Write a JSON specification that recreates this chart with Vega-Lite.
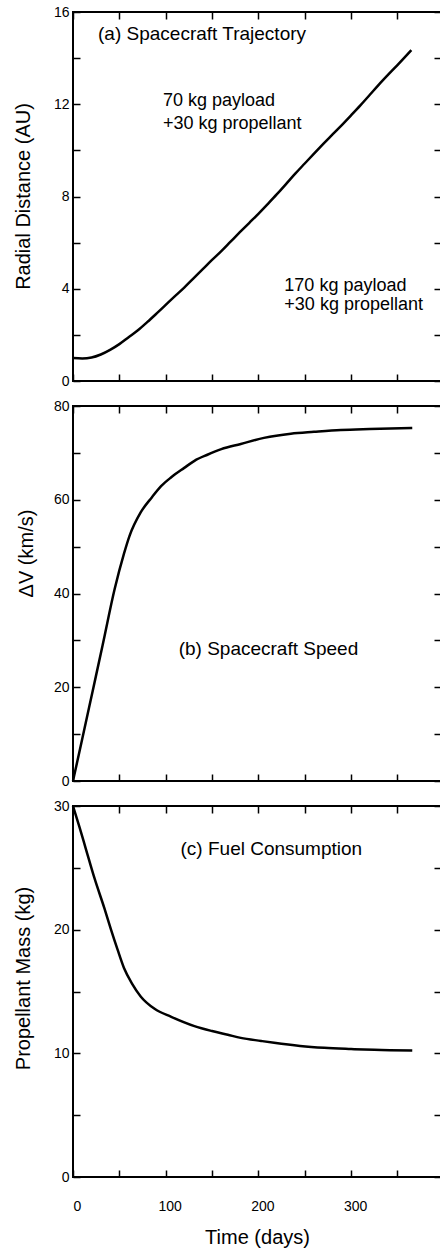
{
  "$schema": "https://vega.github.io/schema/vega-lite/v6.json",
  "padding": {"left": 12, "top": 4, "right": 0, "bottom": 0},
  "spacing": 9,
  "config": {
    "view": {"stroke": "black", "strokeWidth": 2},
    "font": "Liberation Sans",
    "axis": {
      "grid": false, "domain": false, "tickColor": "black", "tickSize": -7, "tickWidth": 1.5,
      "labelColor": "black", "titleColor": "black", "labelFontSize": 14, "titleFontSize": 20,
      "titleFontWeight": "normal", "labelFont": "Liberation Sans", "titleFont": "Liberation Sans"
    }
  },
  "datasets": {
    "traj": [
      {"t": 0, "r": 1.0}, {"t": 10, "r": 0.98}, {"t": 20, "r": 1.02}, {"t": 30, "r": 1.15}, {"t": 40, "r": 1.35},
      {"t": 50, "r": 1.6}, {"t": 60, "r": 1.9}, {"t": 70, "r": 2.2}, {"t": 80, "r": 2.55}, {"t": 90, "r": 2.92},
      {"t": 100, "r": 3.3}, {"t": 110, "r": 3.68}, {"t": 120, "r": 4.05}, {"t": 130, "r": 4.45}, {"t": 140, "r": 4.85},
      {"t": 150, "r": 5.25}, {"t": 160, "r": 5.63}, {"t": 170, "r": 6.04}, {"t": 180, "r": 6.45}, {"t": 190, "r": 6.85},
      {"t": 200, "r": 7.25}, {"t": 210, "r": 7.67}, {"t": 220, "r": 8.1}, {"t": 230, "r": 8.55}, {"t": 240, "r": 9.0},
      {"t": 250, "r": 9.43}, {"t": 260, "r": 9.86}, {"t": 270, "r": 10.28}, {"t": 280, "r": 10.69}, {"t": 290, "r": 11.1},
      {"t": 300, "r": 11.52}, {"t": 310, "r": 11.95}, {"t": 320, "r": 12.4}, {"t": 330, "r": 12.85}, {"t": 340, "r": 13.28},
      {"t": 350, "r": 13.7}, {"t": 365, "r": 14.35}
    ],
    "speed": [
      {"t": 0, "v": 0}, {"t": 10, "v": 9}, {"t": 21, "v": 19}, {"t": 32, "v": 29}, {"t": 45, "v": 41},
      {"t": 55, "v": 48.5}, {"t": 61, "v": 52.3}, {"t": 73, "v": 57.3}, {"t": 85, "v": 60.5}, {"t": 95, "v": 62.9},
      {"t": 106, "v": 64.8}, {"t": 120, "v": 66.8}, {"t": 131, "v": 68.3}, {"t": 145, "v": 69.6}, {"t": 160, "v": 70.8},
      {"t": 181, "v": 71.9}, {"t": 206, "v": 73.2}, {"t": 235, "v": 74.1}, {"t": 260, "v": 74.5}, {"t": 289, "v": 74.9},
      {"t": 320, "v": 75.1}, {"t": 366, "v": 75.3}
    ],
    "fuel": [
      {"t": 0, "m": 30}, {"t": 7, "m": 28.3}, {"t": 14, "m": 26.5}, {"t": 23, "m": 24.2}, {"t": 34, "m": 21.7},
      {"t": 41, "m": 20.0}, {"t": 48, "m": 18.4}, {"t": 55, "m": 16.9}, {"t": 64, "m": 15.6}, {"t": 73, "m": 14.6},
      {"t": 88, "m": 13.6}, {"t": 106, "m": 12.95}, {"t": 131, "m": 12.2}, {"t": 150, "m": 11.8}, {"t": 167, "m": 11.5},
      {"t": 181, "m": 11.25}, {"t": 203, "m": 11.0}, {"t": 217, "m": 10.85}, {"t": 245, "m": 10.6}, {"t": 271, "m": 10.45},
      {"t": 300, "m": 10.35}, {"t": 325, "m": 10.28}, {"t": 366, "m": 10.22}
    ],
    "titles": [
      {"panel": "a", "t": 27, "v": 15.05, "label": "(a) Spacecraft Trajectory"},
      {"panel": "b", "t": 114, "v": 28.2, "label": "(b) Spacecraft Speed"},
      {"panel": "c", "t": 116, "v": 26.5, "label": "(c) Fuel Consumption"}
    ],
    "notes": [
      {"t": 97, "v": 12.14, "label": "70 kg payload"},
      {"t": 97, "v": 11.14, "label": "+30 kg propellant"},
      {"t": 228, "v": 4.12, "label": "170 kg payload"},
      {"t": 228, "v": 3.3, "label": "+30 kg propellant"}
    ]
  },
  "vconcat": [
    {
      "width": 368, "height": 369,
      "layer": [
        {
          "data": {"name": "traj"},
          "mark": {"type": "line", "color": "black", "strokeWidth": 2.5, "interpolate": "monotone"},
          "encoding": {
            "x": {"field": "t", "type": "quantitative", "scale": {"domain": [0, 397], "nice": false, "zero": false},
              "axis": {"orient": "bottom", "values": [0, 50, 100, 150, 200, 250, 300, 350], "labels": false, "title": null}},
            "y": {"field": "r", "type": "quantitative", "scale": {"domain": [0, 16], "nice": false},
              "axis": {"orient": "left", "values": [0, 2, 4, 6, 8, 10, 12, 14, 16], "labelExpr": "datum.value % 4 === 0 ? datum.label : ''",
                "labelPadding": 11, "title": "Radial Distance (AU)", "titleX": -50, "titleY": 184, "titleAngle": -90, "titleBaseline": "middle", "titleAlign": "center"}}
          }
        },
        {
          "data": {"name": "titles"},
          "transform": [{"filter": "datum.panel === 'a'"}],
          "mark": {"type": "text", "align": "left", "baseline": "middle", "fontSize": 19, "font": "Liberation Sans", "color": "black"},
          "encoding": {
            "x": {"field": "t", "type": "quantitative", "axis": {"orient": "top", "values": [0, 50, 100, 150, 200, 250, 300, 350], "labels": false, "title": null}},
            "y": {"field": "v", "type": "quantitative", "axis": {"orient": "right", "values": [0, 2, 4, 6, 8, 10, 12, 14, 16], "labels": false, "title": null}},
            "text": {"field": "label"}
          }
        },
        {
          "data": {"name": "notes"},
          "mark": {"type": "text", "align": "left", "baseline": "middle", "fontSize": 18, "font": "Liberation Sans", "color": "black"},
          "encoding": {
            "x": {"field": "t", "type": "quantitative", "axis": null},
            "y": {"field": "v", "type": "quantitative", "axis": null},
            "text": {"field": "label"}
          }
        }
      ],
      "resolve": {"axis": {"x": "independent", "y": "independent"}}
    },
    {
      "width": 368, "height": 375,
      "layer": [
        {
          "data": {"name": "speed"},
          "mark": {"type": "line", "color": "black", "strokeWidth": 2.5, "interpolate": "monotone"},
          "encoding": {
            "x": {"field": "t", "type": "quantitative", "scale": {"domain": [0, 397], "nice": false, "zero": false},
              "axis": {"orient": "bottom", "values": [0, 50, 100, 150, 200, 250, 300, 350], "labels": false, "title": null}},
            "y": {"field": "v", "type": "quantitative", "scale": {"domain": [0, 80], "nice": false},
              "axis": {"orient": "left", "values": [0, 10, 20, 30, 40, 50, 60, 70, 80], "labelExpr": "datum.value % 20 === 0 ? datum.label : ''",
                "labelPadding": 11, "title": "ΔV (km/s)", "titleX": -47, "titleY": 147, "titleAngle": -90, "titleBaseline": "middle", "titleAlign": "center"}}
          }
        },
        {
          "data": {"name": "titles"},
          "transform": [{"filter": "datum.panel === 'b'"}],
          "mark": {"type": "text", "align": "left", "baseline": "middle", "fontSize": 19, "font": "Liberation Sans", "color": "black"},
          "encoding": {
            "x": {"field": "t", "type": "quantitative", "axis": {"orient": "top", "values": [0, 50, 100, 150, 200, 250, 300, 350], "labels": false, "title": null}},
            "y": {"field": "v", "type": "quantitative", "axis": {"orient": "right", "values": [0, 10, 20, 30, 40, 50, 60, 70, 80], "labels": false, "title": null}},
            "text": {"field": "label"}
          }
        }
      ],
      "resolve": {"axis": {"x": "independent", "y": "independent"}}
    },
    {
      "width": 368, "height": 371,
      "layer": [
        {
          "data": {"name": "fuel"},
          "mark": {"type": "line", "color": "black", "strokeWidth": 2.5, "interpolate": "monotone"},
          "encoding": {
            "x": {"field": "t", "type": "quantitative", "scale": {"domain": [0, 397], "nice": false, "zero": false},
              "axis": {"orient": "bottom", "values": [0, 50, 100, 150, 200, 250, 300, 350], "labelExpr": "datum.value % 100 === 0 ? datum.label : ''",
                "labelFlush": false, "labelOffset": 4, "labelPadding": 29, "title": "Time (days)", "titlePadding": 14}},
            "y": {"field": "m", "type": "quantitative", "scale": {"domain": [0, 30], "nice": false},
              "axis": {"orient": "left", "values": [0, 5, 10, 15, 20, 25, 30], "labelExpr": "datum.value % 10 === 0 ? datum.label : ''",
                "labelPadding": 11, "title": "Propellant Mass (kg)", "titleX": -50, "titleY": 172, "titleAngle": -90, "titleBaseline": "middle", "titleAlign": "center"}}
          }
        },
        {
          "data": {"name": "titles"},
          "transform": [{"filter": "datum.panel === 'c'"}],
          "mark": {"type": "text", "align": "left", "baseline": "middle", "fontSize": 19, "font": "Liberation Sans", "color": "black"},
          "encoding": {
            "x": {"field": "t", "type": "quantitative", "axis": {"orient": "top", "values": [0, 50, 100, 150, 200, 250, 300, 350], "labels": false, "title": null}},
            "y": {"field": "v", "type": "quantitative", "axis": {"orient": "right", "values": [0, 5, 10, 15, 20, 25, 30], "labels": false, "title": null}},
            "text": {"field": "label"}
          }
        }
      ],
      "resolve": {"axis": {"x": "independent", "y": "independent"}}
    }
  ]
}
